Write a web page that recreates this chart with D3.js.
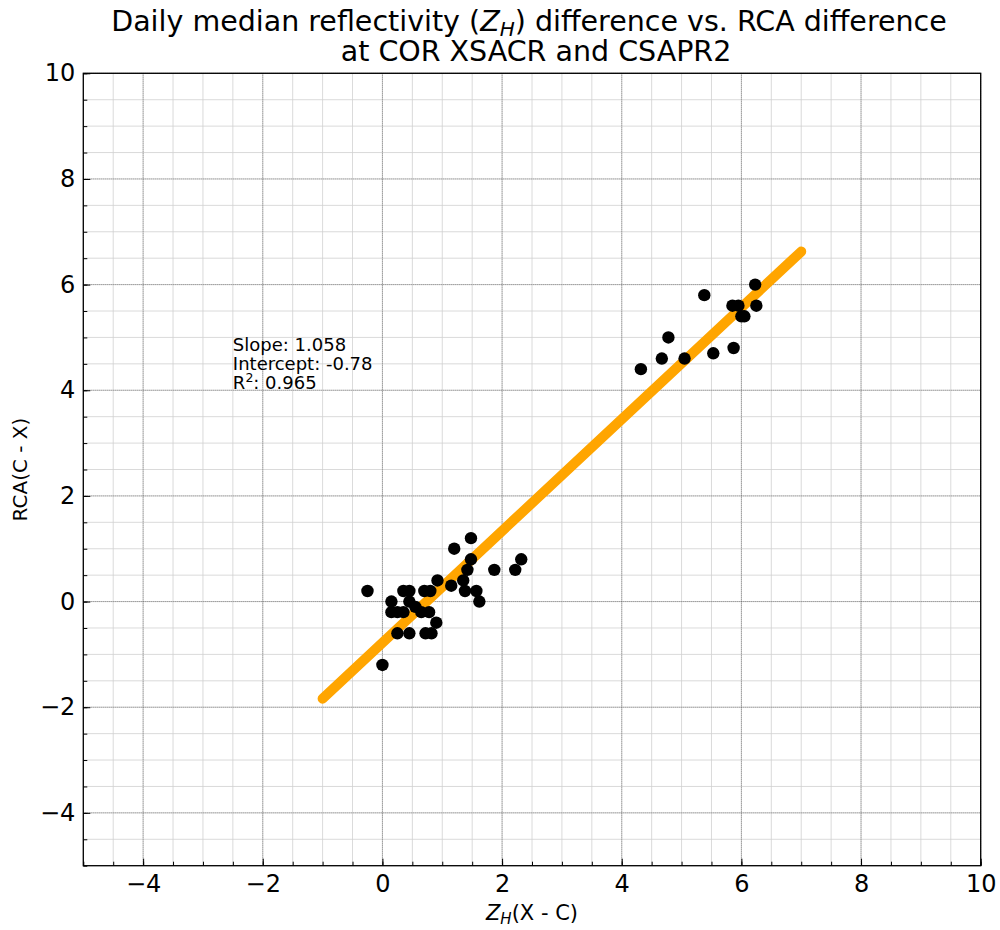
<!DOCTYPE html>
<html>
<head>
<meta charset="utf-8">
<script src="https://cdn.jsdelivr.net/npm/d3@7/dist/d3.min.js"></script>
<style>
  html, body { margin: 0; padding: 0; background: #fff; }
  svg { display: block; font-family: "DejaVu Sans", sans-serif; }
</style>
</head>
<body>
<svg id="chart" width="1000" height="930"></svg>
<script>
// ---- data ----
const zhDiff = [-0.25, 0.0, 0.15, 0.15, 0.25, 0.35, 0.35, 0.45, 0.45, 0.25, 0.45, 0.55,
  0.70, 0.80, 0.65, 0.78, 0.72, 0.82, 0.90, 0.92, 1.15, 1.35, 1.38, 1.42, 1.48, 1.20,
  1.48, 1.57, 1.62, 1.87, 2.22, 2.32,
  4.32, 4.67, 4.78, 5.05, 5.38, 5.53, 5.87, 5.85, 5.95, 6.00, 6.05, 6.23, 6.25];
const rcaDiff = [0.2, -1.2, 0.0, -0.2, -0.2, -0.2, 0.2, 0.2, 0.0, -0.6, -0.6, -0.1,
  0.2, 0.2, -0.2, -0.2, -0.6, -0.6, -0.4, 0.4, 0.3, 0.4, 0.2, 0.6, 0.8, 1.0,
  1.2, 0.2, 0.0, 0.6, 0.6, 0.8,
  4.4, 4.6, 5.0, 4.6, 5.8, 4.7, 4.8, 5.6, 5.6, 5.4, 5.4, 6.0, 5.6];
const fitSlope = 1.058;
const fitIntercept = -0.78;
const fitR2 = 0.965;
const fitXRange = [-1, 7];
const xDomain = [-5, 10];
const yDomain = [-5, 10];
const xMajorTicks = [-4, -2, 0, 2, 4, 6, 8, 10];
const yMajorTicks = [-4, -2, 0, 2, 4, 6, 8, 10];
const xMinorTicks = d3.range(-5, 10.01, 0.5);
const yMinorTicks = d3.range(-5, 10.01, 0.5);
const titleLines = ["Daily median reflectivity (", ") difference vs. RCA difference", "at COR XSACR and CSAPR2"];

// ---- layout ----
const L = 83.3, R = 980.7, T = 73.3, B = 865.7;
const svg = d3.select("#chart");
const x = d3.scaleLinear().domain(xDomain).range([L, R]);
const y = d3.scaleLinear().domain(yDomain).range([B, T]);

// minor grid
const g = svg.append("g");
g.selectAll(".vminor").data(xMinorTicks).enter().append("line")
  .attr("x1", d => x(d)).attr("x2", d => x(d)).attr("y1", T).attr("y2", B)
  .attr("stroke", "#d0d0d0").attr("stroke-width", 0.8);
g.selectAll(".hminor").data(yMinorTicks).enter().append("line")
  .attr("y1", d => y(d)).attr("y2", d => y(d)).attr("x1", L).attr("x2", R)
  .attr("stroke", "#d0d0d0").attr("stroke-width", 0.8);
// major grid
g.selectAll(".vmajor").data(xMajorTicks).enter().append("line")
  .attr("x1", d => x(d)).attr("x2", d => x(d)).attr("y1", T).attr("y2", B)
  .attr("stroke", "#444").attr("stroke-width", 0.6).attr("stroke-dasharray", "1,1");
g.selectAll(".hmajor").data(yMajorTicks).enter().append("line")
  .attr("y1", d => y(d)).attr("y2", d => y(d)).attr("x1", L).attr("x2", R)
  .attr("stroke", "#444").attr("stroke-width", 0.6).attr("stroke-dasharray", "1,1");

// fit line
const line = d3.line().x(d => x(d)).y(d => y(fitSlope * d + fitIntercept));
svg.append("path").datum(fitXRange).attr("d", line)
  .attr("fill", "none").attr("stroke", "#FFA500").attr("stroke-width", 10)
  .attr("stroke-linecap", "round");

// points
svg.append("g").selectAll("circle").data(zhDiff.map((v, i) => [v, rcaDiff[i]])).enter()
  .append("circle")
  .attr("cx", d => x(d[0])).attr("cy", d => y(d[1])).attr("r", 6.2).attr("fill", "#000");

// axes
const fmt = d3.format("d");
const xAxis = svg.append("g").attr("transform", `translate(0,${B})`)
  .call(d3.axisBottom(x).tickValues(xMajorTicks).tickSize(-7).tickPadding(9).tickFormat(fmt));
const xMinor = svg.append("g").attr("transform", `translate(0,${B})`)
  .call(d3.axisBottom(x).tickValues(xMinorTicks).tickSize(-4).tickFormat(""));
const yAxis = svg.append("g").attr("transform", `translate(${L},0)`)
  .call(d3.axisLeft(y).tickValues(yMajorTicks).tickSize(-7).tickPadding(8).tickFormat(fmt));
const yMinor = svg.append("g").attr("transform", `translate(${L},0)`)
  .call(d3.axisLeft(y).tickValues(yMinorTicks).tickSize(-4).tickFormat(""));
[xAxis, xMinor, yAxis, yMinor].forEach(a => {
  a.select(".domain").remove();
  a.selectAll(".tick line").attr("stroke", "#000").attr("stroke-width", 1);
  a.selectAll("text").attr("font-family", "DejaVu Sans").attr("font-size", 24).attr("fill", "#000");
});

// frame
svg.append("rect").attr("x", L).attr("y", T).attr("width", R - L).attr("height", B - T)
  .attr("fill", "none").attr("stroke", "#000").attr("stroke-width", 1.3);

// title
const cx = (L + R) / 2;
const t1 = svg.append("text").attr("x", cx - 3).attr("y", 31).attr("text-anchor", "middle")
  .attr("font-size", 28.5).attr("fill", "#000");
t1.append("tspan").text(titleLines[0]);
t1.append("tspan").attr("font-style", "italic").text("Z");
t1.append("tspan").attr("font-style", "italic").attr("font-size", 20).attr("dy", 5).text("H");
t1.append("tspan").attr("dy", -5).text(titleLines[1]);
svg.append("text").attr("x", cx + 4).attr("y", 61).attr("text-anchor", "middle")
  .attr("font-size", 28.5).attr("fill", "#000").text(titleLines[2]);

// x label
const xl = svg.append("text").attr("x", cx).attr("y", 920).attr("text-anchor", "middle")
  .attr("font-size", 21).attr("fill", "#000");
xl.append("tspan").attr("font-style", "italic").text("Z");
xl.append("tspan").attr("font-style", "italic").attr("font-size", 15).attr("dy", 4).text("H");
xl.append("tspan").attr("dy", -4).text("(X - C)");

// y label
svg.append("text").attr("transform", `translate(27,${(T + B) / 2}) rotate(-90)`)
  .attr("text-anchor", "middle").attr("font-size", 20).attr("fill", "#000").text("RCA(C - X)");

// annotation
const ax = x(-2.5);
const ann = svg.append("text").attr("font-size", 18).attr("fill", "#000");
ann.append("tspan").attr("x", ax).attr("y", 351).text("Slope: " + fitSlope.toFixed(3));
ann.append("tspan").attr("x", ax).attr("y", 370).text("Intercept: " + fitIntercept.toFixed(2));
ann.append("tspan").attr("x", ax).attr("y", 389).text("R");
ann.append("tspan").attr("font-size", 12.5).attr("dy", -7).text("2");
ann.append("tspan").attr("dy", 7).text(": " + fitR2.toFixed(3));
</script>
</body>
</html>
